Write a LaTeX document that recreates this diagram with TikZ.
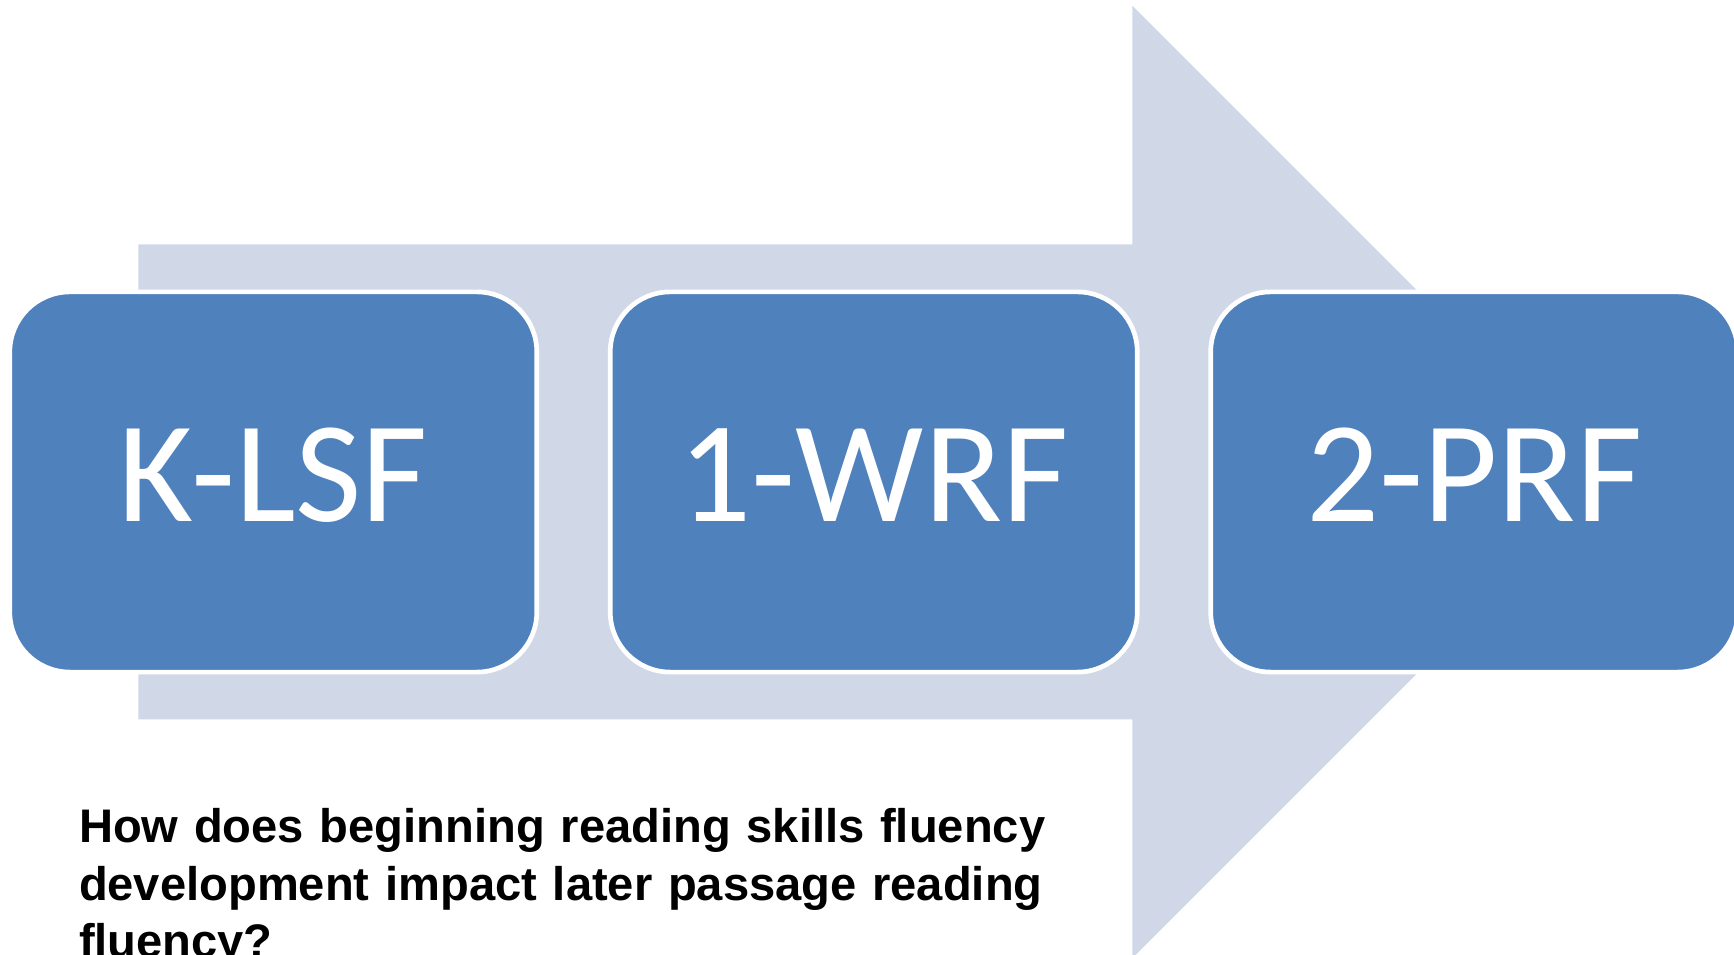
\documentclass[tikz,border=0pt]{standalone}
\usepackage{fontspec}
\setmainfont{Carlito}
\newfontfamily\questionfont{Liberation Sans}
\usetikzlibrary{positioning}
\definecolor{stageblue}{HTML}{4F81BD}
\definecolor{flowgray}{HTML}{D0D8E8}
\tikzset{x=0.01cm, y=0.01cm,
    stage/.style={rectangle,rounded corners=0.6cm,fill=stageblue,draw=white,
        line width=0.047cm,minimum width=5.267cm,minimum height=3.8cm,
        inner sep=0pt,outer sep=0pt,text=white,
        font=\fontsize{41}{49}\selectfont,text height=1.0cm,text depth=0.206cm},
    flow/.style={fill=flowgray},
    question/.style={anchor=base west,inner sep=0pt,text width=11cm,align=left,
        font=\questionfont\bfseries\fontsize{13.4}{16.3}\selectfont}}

\begin{document}
\begin{tikzpicture}
[node distance=0.734cm]
\useasboundingbox (0,0) rectangle (1734,955);
\clip (0,0) rectangle (1734,955);
\fill[flow] (138.3,235.7) -- (138.3,710.7) -- (1132.3,710.7) -- (1132.3,949.4)
    -- (1608.7,473) -- (1132.3,-3.4) -- (1132.3,235.7) -- cycle;
\node[stage] (klsf) at (273.3,473) {K-LSF};
\node[stage] (wrf)  [right=of klsf] {1-WRF};
\node[stage] (prf)  [right=of wrf]  {2-PRF};
\node[question] (q) at (78.3,112.3) {How does beginning reading skills fluency\\
    development impact later passage reading\\
    fluency?};
\end{tikzpicture}
\end{document}
